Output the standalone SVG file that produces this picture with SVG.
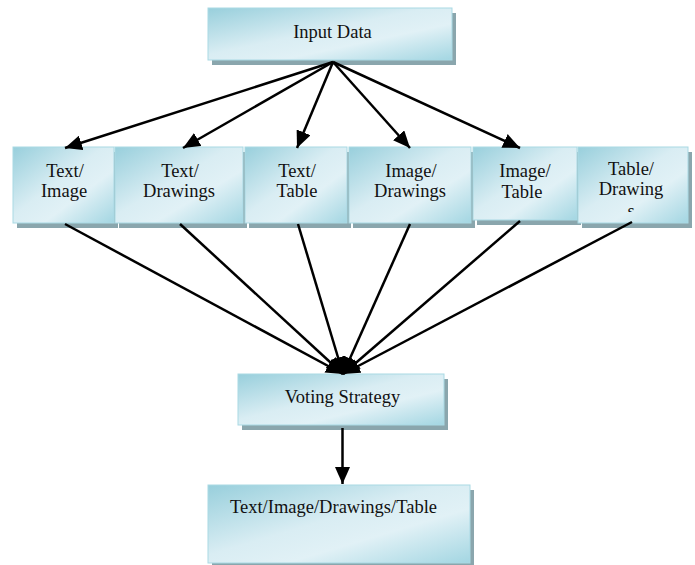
<svg xmlns="http://www.w3.org/2000/svg" width="695" height="565" viewBox="0 0 695 565">
<defs>
<linearGradient id="g" x1="0" y1="0" x2="1" y2="1">
<stop offset="0" stop-color="#98cfdc"/>
<stop offset="0.45" stop-color="#d9edf3"/>
<stop offset="0.65" stop-color="#e1f1f6"/>
<stop offset="1" stop-color="#a3d6e2"/>
</linearGradient>
<marker id="ah" markerUnits="userSpaceOnUse" markerWidth="17" markerHeight="15" refX="17" refY="7.5" orient="auto">
<path d="M0,0 L17,7.5 L0,15 z" fill="#000"/>
</marker>
<clipPath id="clipTD"><rect x="577" y="147" width="111" height="65"/></clipPath>
</defs>
<style>
.sh{fill:#8aa6ad}
.bx{fill:url(#g);stroke:#a9d9e4;stroke-width:1}
.t{font-family:"Liberation Serif","Times New Roman",serif;font-size:18.5px;fill:#111;text-anchor:middle}
.ts{font-family:"Liberation Serif","Times New Roman",serif;font-size:18.5px;fill:#111}
.c{stroke:#000;stroke-width:2.5;fill:none}
.ca{stroke:#000;stroke-width:2.5;fill:none;marker-end:url(#ah)}
</style>
<rect width="695" height="565" fill="#fff"/>

<g id="input">
<rect class="sh" x="212" y="13" width="244" height="52"/>
<rect class="bx" x="208" y="8" width="244" height="52"/>
<text class="t" x="332.5" y="38">Input Data</text>
</g>

<g id="text-image">
<rect class="sh" x="17" y="152" width="101" height="76"/>
<rect class="bx" x="13" y="147" width="101" height="76"/>
<text class="t" x="65" y="177">Text/</text>
<text class="t" x="64" y="197">Image</text>
</g>

<g id="text-drawings">
<rect class="sh" x="119" y="152" width="128" height="76"/>
<rect class="bx" x="115" y="147" width="128" height="76"/>
<text class="t" x="180" y="177">Text/</text>
<text class="t" x="179" y="197">Drawings</text>
</g>

<g id="text-table">
<rect class="sh" x="249" y="152" width="102" height="76"/>
<rect class="bx" x="245" y="147" width="102" height="76"/>
<text class="t" x="297" y="177">Text/</text>
<text class="t" x="297" y="197">Table</text>
</g>

<g id="image-drawings">
<rect class="sh" x="353" y="152" width="122" height="76"/>
<rect class="bx" x="349" y="147" width="122" height="76"/>
<text class="t" x="411" y="177">Image/</text>
<text class="t" x="410" y="197">Drawings</text>
</g>

<g id="image-table">
<rect class="sh" x="477" y="152" width="104" height="73"/>
<rect class="bx" x="473" y="147" width="104" height="73"/>
<text class="t" x="525" y="177">Image/</text>
<text class="t" x="522" y="198">Table</text>
</g>

<g id="table-drawing">
<rect class="sh" x="582" y="152" width="110" height="76"/>
<rect class="bx" x="578" y="147" width="110" height="76"/>
<text class="t" x="631" y="175">Table/</text>
<text class="t" x="631" y="195">Drawing</text>
<text class="t" x="631" y="217" clip-path="url(#clipTD)">s</text>
</g>

<g id="voting">
<rect class="sh" x="242" y="379" width="206" height="51"/>
<rect class="bx" x="238" y="374" width="206" height="51"/>
<text class="t" x="342.5" y="403">Voting Strategy</text>
</g>

<g id="result">
<rect class="sh" x="212" y="490" width="262" height="78"/>
<rect class="bx" x="208" y="485" width="262" height="78"/>
<text class="ts" x="230" y="513">Text/Image/Drawings/Table</text>
</g>

<g id="connectors">
<line class="ca" x1="333" y1="62" x2="65" y2="148"/>
<line class="ca" x1="333" y1="62" x2="183" y2="148"/>
<line class="ca" x1="333" y1="62" x2="297" y2="148"/>
<line class="ca" x1="333" y1="62" x2="410" y2="148"/>
<line class="ca" x1="333" y1="62" x2="520" y2="148"/>
<line class="ca" x1="65" y1="224" x2="343" y2="374"/>
<line class="ca" x1="180" y1="224" x2="343" y2="374"/>
<line class="ca" x1="298" y1="224" x2="343" y2="374"/>
<line class="ca" x1="410" y1="224" x2="343" y2="374"/>
<line class="ca" x1="520" y1="221" x2="343" y2="374"/>
<line class="ca" x1="632" y1="222" x2="343" y2="374"/>
<line class="ca" x1="342.5" y1="428" x2="342.5" y2="484"/>
</g>
</svg>
